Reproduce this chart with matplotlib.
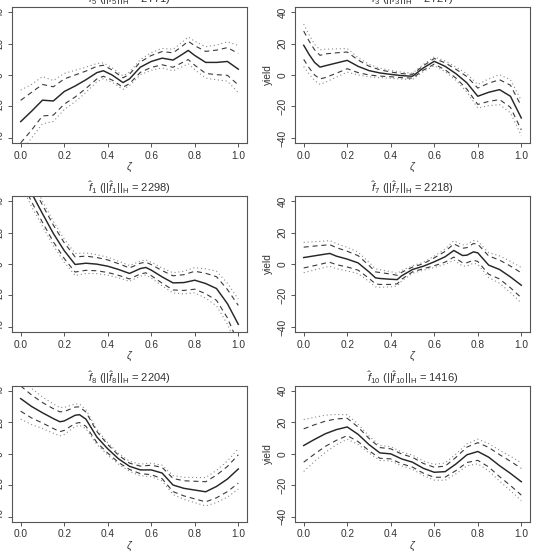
"""
Estimated functional effects with pointwise and simultaneous bands
"""

import numpy as np
import matplotlib
matplotlib.use("Agg")
import matplotlib.pyplot as plt

plt.rcParams['font.family'] = ['Liberation Sans', 'DejaVu Sans']
plt.rcParams['mathtext.fontset'] = 'custom'
plt.rcParams['mathtext.rm'] = 'Liberation Sans'
plt.rcParams['mathtext.it'] = 'Liberation Sans:italic'

# panel order: top-left, top-right, mid-left, mid-right, bottom-left, bottom-right
idx = [5, 3, 1, 7, 8, 10]
norms = [2771, 2727, 2298, 2218, 2204, 1416]

# f5
z5 = [0, .05, .1, .15, .2, .25, .3, .35, .38, .42, .47, .5, .55, .6, .65, .7, .73, .77, .8, .85, .9, .95, 1.0]
c5 = [-29.6, -23, -16, -16.5, -10.5, -7, -3, 1.5, 2.7, 0, -4.8, -2.5, 5, 8.6, 10.7, 9.5, 12, 15.6, 12.4, 8, 8, 8.6, 3.7]
d5 = [13.5, 12, 10, 9, 8, 7, 5.5, 4, 3.5, 3.2, 3, 3, 3.3, 3.8, 4.2, 4.6, 5, 5.8, 6.2, 7, 7.8, 8.8, 10]
s5 = [20, 17, 15, 13, 11.5, 10, 8, 5.8, 5, 4.6, 4.3, 4.3, 4.8, 5.6, 6.2, 6.8, 7.5, 8.5, 9, 10, 11, 12.5, 15]

# f3
z3 = [0, .025, .05, .075, .1, .15, .2, .25, .3, .35, .4, .45, .5, .55, .6, .65, .7, .75, .8, .85, .9, .95, 1.0]
c3 = [18.9, 13, 8, 5, 5.9, 7.6, 9.3, 5.5, 2.8, 1.3, 0.4, -0.4, -0.8, 4.5, 8.7, 5.5, 0.8, -5, -13.5, -11, -9.3, -13.5, -27.3]
d3 = [9, 8.5, 8, 7.5, 7.5, 6.5, 5.3, 4, 2.8, 2, 1.5, 1.3, 1.2, 1.4, 1.8, 2.2, 2.8, 4, 5.2, 5.8, 6.3, 7, 7.6]
s3 = [13.5, 12.5, 11.5, 11, 10.5, 9, 7.5, 5.5, 4, 3, 2.5, 2.2, 2, 2.3, 2.8, 3.4, 4.2, 5.8, 7.5, 8.5, 9.5, 10.5, 11.2]

# f1
z1 = [0, .05, .1, .15, .2, .25, .3, .35, .4, .45, .5, .55, .575, .6, .65, .7, .75, .8, .85, .9, .95, 1.0]
c1 = [60, 45, 32, 19.4, 8.5, -0.3, 0.5, -0.1, -1.4, -3.5, -6, -2.9, -2.2, -3.9, -8.2, -12, -11.8, -10.3, -12.4, -15.6, -25.2, -38.3]
d1 = [6, 5.5, 5.5, 5.3, 5, 4.8, 4.5, 4.2, 4, 3.7, 3.5, 3.4, 3.4, 3.5, 4, 4.5, 5, 5.7, 6.5, 7.5, 9, 12]
s1 = [9, 8.5, 8, 7.7, 7.3, 7, 6.5, 6, 5.7, 5.3, 5, 4.8, 4.8, 5, 5.7, 6.4, 7.2, 8, 9.3, 11, 13, 16]

# f7
z7 = [0, .05, .1, .12, .15, .2, .25, .3, .33, .35, .4, .43, .45, .5, .55, .6, .65, .69, .73, .75, .78, .8, .85, .9, .95, 1.0]
c7 = [4.1, 5.2, 6.3, 6.7, 5, 3.1, 0.7, -5, -8.8, -9.2, -9.7, -9.9, -7.5, -3.5, -1.4, 1.4, 4.6, 8.6, 5.4, 5.6, 7.7, 7.1, -0.7, -3.5, -8.2, -13.5]
d7 = [6.6, 6.2, 5.7, 5.6, 5.4, 5, 4.6, 4.1, 3.8, 3.8, 3.3, 2.7, 2.2, 1.5, 1.6, 2.5, 3.4, 4.2, 4.6, 4.8, 5.3, 5.5, 5.8, 6, 6.9, 7.9]
s7 = [9.6, 9, 8.3, 8.2, 8, 7.5, 6.8, 6.1, 5.7, 5.6, 4.8, 4, 3.3, 2.4, 2.5, 3.6, 4.9, 6.2, 6.7, 6.9, 7.2, 7.3, 7.9, 8.7, 9.9, 11.3]

# f8
z8 = [0, .05, .1, .15, .18, .2, .25, .27, .3, .35, .4, .45, .5, .55, .6, .65, .7, .75, .8, .85, .9, .95, 1.0]
c8 = [35, 30, 26, 22.3, 20.3, 20.8, 24.4, 24.8, 21.9, 10.6, 3.1, -3.3, -8, -10.3, -10.3, -12.3, -19.9, -22, -23.1, -24.2, -20.8, -16.1, -9.7]
d8 = [8, 7.3, 6.5, 6.3, 6.3, 6, 5.2, 5, 4.5, 3.5, 2.7, 2.3, 2, 2.4, 3, 3.6, 4.2, 4.8, 5.6, 6.4, 7.2, 8, 9]
s8 = [13, 11.5, 10, 9.3, 9, 8.6, 7.2, 6.8, 6, 4.8, 3.9, 3.4, 3.2, 3.7, 4.3, 5, 6, 7, 8, 9, 10.2, 11.5, 12.8]

# f10
z10 = [0, .05, .1, .15, .2, .25, .3, .35, .4, .45, .5, .55, .6, .65, .7, .75, .8, .85, .9, .95, 1.0]
c10 = [5.2, 9.1, 12.7, 15.3, 17, 12.3, 5.8, 0.5, -0.1, -3.3, -5.4, -9.3, -11.8, -11.4, -6.5, -0.7, 1.4, -2.2, -7.6, -12.5, -17.8]
d10 = [10.6, 9.3, 8, 6.8, 5.5, 4.6, 3.9, 3.4, 3.2, 3.1, 3.1, 3.1, 3.2, 3.5, 4.2, 4.9, 5.6, 6.2, 7, 7.7, 8.5]
s10 = [16.5, 14, 11.8, 9.6, 7.8, 6.4, 5.4, 4.8, 4.5, 4.4, 4.5, 4.6, 5, 5.5, 6.3, 7, 7.8, 8.7, 9.8, 10.9, 12]

panels = [(z5, c5, d5, s5), (z3, c3, d3, s3), (z1, c1, d1, s1),
          (z7, c7, d7, s7), (z8, c8, d8, s8), (z10, c10, d10, s10)]

W, H = 537, 557
fig = plt.figure(figsize=(W / 100, H / 100), dpi=100)

col_left = [12, 295]
row_top = [7, 196, 385.7]
aw, ah = 235, 136

fg = '#333333'
for k, (z, c, d, s) in enumerate(panels):
    r, col = divmod(k, 2)
    ax = fig.add_axes([col_left[col] / W, 1 - (row_top[r] + ah) / H, aw / W, ah / H])
    z = np.array(z); c = np.array(c); d = np.array(d); s = np.array(s)
    ax.plot(z, c + s, color='#8a8a8a', lw=0.8, dashes=(1, 2.5))
    ax.plot(z, c - s, color='#8a8a8a', lw=0.8, dashes=(1, 2.5))
    ax.plot(z, c + d, color='#3a3a3a', lw=0.8, dashes=(4.5, 3.5))
    ax.plot(z, c - d, color='#3a3a3a', lw=0.8, dashes=(4.5, 3.5))
    ax.plot(z, c, color='#262626', lw=1.05)
    ax.set_xlim(-0.04, 1.04)
    ax.set_ylim(-43.2, 43.2)
    ax.set_xticks([0, 0.2, 0.4, 0.6, 0.8, 1.0])
    ax.set_xticklabels(['0.0', '0.2', '0.4', '0.6', '0.8', '1.0'])
    ax.set_yticks([-40, -20, 0, 20, 40])
    ax.set_yticklabels(['\u221240', '\u221220', '0', '20', '40'])
    for lab in ax.get_yticklabels():
        lab.set_rotation(90)
        lab.set_va('center')
    for sp in ax.spines.values():
        sp.set_color('#555555')
        sp.set_linewidth(0.8)
    ax.tick_params(direction='out', length=3, width=0.7, color='#555555',
                   labelsize=7.3, labelcolor=fg, pad=2.5)
    ax.set_xlabel(r'$\zeta$', fontsize=7.5, color=fg, labelpad=0)
    ax.set_ylabel('yield', fontsize=7.3, color=fg, labelpad=3)
    i = idx[k]
    ax.set_title(r'$\hat{f}_{%d}$ ($||\hat{f}_{%d}||_{\mathrm{H}}$ = %d)' % (i, i, norms[k]),
                 fontsize=8, color=fg, pad=3)

fig.savefig('out.png', dpi=100)
